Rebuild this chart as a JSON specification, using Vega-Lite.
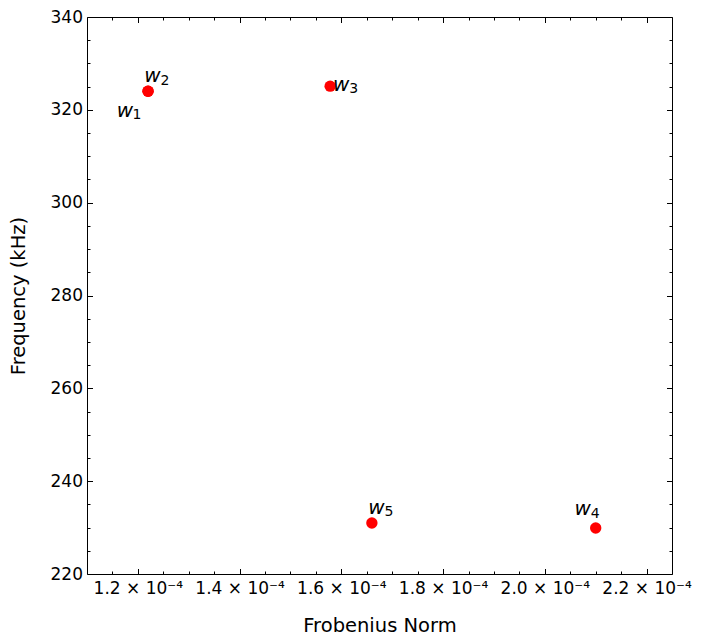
{
  "$schema": "https://vega.github.io/schema/vega-lite/v6.json",
  "width": 585,
  "height": 557,
  "autosize": "none",
  "padding": {"left": 87, "top": 17, "right": 30, "bottom": 66},
  "background": "white",
  "data": {
    "values": [
      {"label": "w1", "sub": "1", "norm": 0.0001220, "freq": 324.0},
      {"label": "w2", "sub": "2", "norm": 0.0001220, "freq": 324.0},
      {"label": "w3", "sub": "3", "norm": 0.0001578, "freq": 325.1},
      {"label": "w4", "sub": "4", "norm": 0.0002100, "freq": 229.9},
      {"label": "w5", "sub": "5", "norm": 0.0001660, "freq": 231.0}
    ]
  },
  "config": {
    "view": {"stroke": null},
    "axis": {
      "grid": false,
      "domainColor": "black",
      "tickColor": "black",
      "labelColor": "black",
      "titleColor": "black",
      "labelFont": "DejaVu Sans",
      "titleFont": "DejaVu Sans",
      "labelFontSize": 17,
      "titleFontSize": 19.5,
      "titleFontWeight": "normal",
      "domainWidth": 1,
      "tickWidth": 1
    }
  },
  "layer": [
    {
      "mark": {"type": "circle", "size": 130, "color": "#ff0000", "opacity": 1},
      "encoding": {
        "x": {
          "field": "norm", "type": "quantitative",
          "scale": {"domain": [0.00011, 0.000225], "nice": false, "zero": false},
          "axis": {
            "orient": "bottom",
            "values": [0.00012, 0.00014, 0.00016, 0.00018, 0.0002, 0.00022],
            "tickSize": -5.5,
            "labelPadding": 12,
            "labelExpr": "format(datum.value*10000, '.1f') + ' × 10⁻⁴'",
            "title": "Frobenius Norm",
            "titlePadding": 20
          }
        },
        "y": {
          "field": "freq", "type": "quantitative",
          "scale": {"domain": [220, 340], "nice": false, "zero": false},
          "axis": {
            "orient": "left",
            "values": [220, 240, 260, 280, 300, 320, 340],
            "tickSize": -5.5,
            "labelPadding": 10,
            "title": "Frequency (kHz)",
            "titlePadding": 22
          }
        }
      }
    },
    {
      "mark": {"type": "point", "opacity": 0},
      "encoding": {
        "x": {
          "field": "norm", "type": "quantitative",
          "axis": {
            "orient": "bottom",
            "values": [0.000115, 0.000125, 0.00013, 0.000135, 0.000145, 0.00015, 0.000155, 0.000165, 0.00017, 0.000175, 0.000185, 0.00019, 0.000195, 0.000205, 0.00021, 0.000215],
            "tickSize": -3,
            "labels": false,
            "domain": false,
            "title": null
          }
        },
        "y": {
          "field": "freq", "type": "quantitative",
          "axis": {
            "orient": "left",
            "values": [225, 230, 235, 245, 250, 255, 265, 270, 275, 285, 290, 295, 305, 310, 315, 325, 330, 335],
            "tickSize": -3,
            "labels": false,
            "domain": false,
            "title": null
          }
        }
      }
    },
    {
      "mark": {"type": "point", "opacity": 0},
      "encoding": {
        "x": {
          "field": "norm", "type": "quantitative",
          "axis": {
            "orient": "top",
            "values": [0.00012, 0.00014, 0.00016, 0.00018, 0.0002, 0.00022],
            "tickSize": -5.5,
            "labels": false,
            "title": null
          }
        },
        "y": {
          "field": "freq", "type": "quantitative",
          "axis": {
            "orient": "right",
            "values": [220, 240, 260, 280, 300, 320, 340],
            "tickSize": -5.5,
            "labels": false,
            "title": null
          }
        }
      }
    },
    {
      "mark": {"type": "point", "opacity": 0},
      "encoding": {
        "x": {
          "field": "norm", "type": "quantitative",
          "axis": {
            "orient": "top",
            "values": [0.000115, 0.000125, 0.00013, 0.000135, 0.000145, 0.00015, 0.000155, 0.000165, 0.00017, 0.000175, 0.000185, 0.00019, 0.000195, 0.000205, 0.00021, 0.000215],
            "tickSize": -3,
            "labels": false,
            "domain": false,
            "title": null
          }
        },
        "y": {
          "field": "freq", "type": "quantitative",
          "axis": {
            "orient": "right",
            "values": [225, 230, 235, 245, 250, 255, 265, 270, 275, 285, 290, 295, 305, 310, 315, 325, 330, 335],
            "tickSize": -3,
            "labels": false,
            "domain": false,
            "title": null
          }
        }
      }
    },
    {
      "transform": [{"filter": "datum.label == 'w1'"}],
      "layer": [
        {"mark": {"type": "text", "text": "w", "font": "DejaVu Sans", "fontStyle": "italic", "fontSize": 20, "align": "center", "baseline": "middle", "dx": -23, "dy": 20, "color": "black"}},
        {"mark": {"type": "text", "font": "DejaVu Sans", "fontSize": 14, "align": "center", "baseline": "middle", "dx": -11, "dy": 24, "color": "black"}, "encoding": {"text": {"field": "sub"}}}
      ],
      "encoding": {
        "x": {"field": "norm", "type": "quantitative", "axis": null},
        "y": {"field": "freq", "type": "quantitative", "axis": null}
      }
    },
    {
      "transform": [{"filter": "datum.label == 'w2' || datum.label == 'w5'"}],
      "layer": [
        {"mark": {"type": "text", "text": "w", "font": "DejaVu Sans", "fontStyle": "italic", "fontSize": 20, "align": "center", "baseline": "middle", "dx": 4.5, "dy": -15, "color": "black"}},
        {"mark": {"type": "text", "font": "DejaVu Sans", "fontSize": 14, "align": "center", "baseline": "middle", "dx": 17, "dy": -10.5, "color": "black"}, "encoding": {"text": {"field": "sub"}}}
      ],
      "encoding": {
        "x": {"field": "norm", "type": "quantitative", "axis": null},
        "y": {"field": "freq", "type": "quantitative", "axis": null}
      }
    },
    {
      "transform": [{"filter": "datum.label == 'w3'"}],
      "layer": [
        {"mark": {"type": "text", "text": "w", "font": "DejaVu Sans", "fontStyle": "italic", "fontSize": 20, "align": "center", "baseline": "middle", "dx": 11, "dy": -1.5, "color": "black"}},
        {"mark": {"type": "text", "font": "DejaVu Sans", "fontSize": 14, "align": "center", "baseline": "middle", "dx": 23.5, "dy": 2.5, "color": "black"}, "encoding": {"text": {"field": "sub"}}}
      ],
      "encoding": {
        "x": {"field": "norm", "type": "quantitative", "axis": null},
        "y": {"field": "freq", "type": "quantitative", "axis": null}
      }
    },
    {
      "transform": [{"filter": "datum.label == 'w4'"}],
      "layer": [
        {"mark": {"type": "text", "text": "w", "font": "DejaVu Sans", "fontStyle": "italic", "fontSize": 20, "align": "center", "baseline": "middle", "dx": -13, "dy": -19.5, "color": "black"}},
        {"mark": {"type": "text", "font": "DejaVu Sans", "fontSize": 14, "align": "center", "baseline": "middle", "dx": -0.5, "dy": -14.5, "color": "black"}, "encoding": {"text": {"field": "sub"}}}
      ],
      "encoding": {
        "x": {"field": "norm", "type": "quantitative", "axis": null},
        "y": {"field": "freq", "type": "quantitative", "axis": null}
      }
    }
  ],
  "resolve": {"axis": {"x": "independent", "y": "independent"}}
}
